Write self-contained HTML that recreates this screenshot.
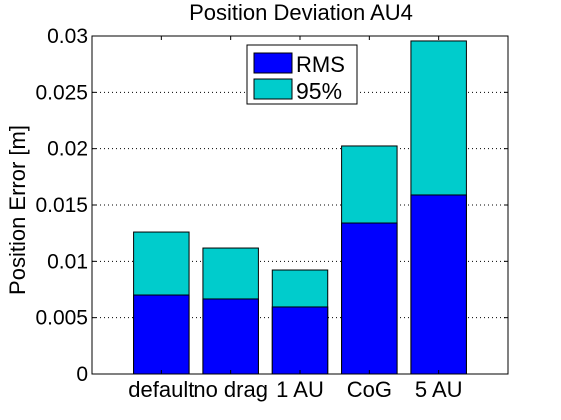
<!DOCTYPE html>
<html><head><meta charset="utf-8"><style>
body{margin:0;background:#fff;}
svg{display:block;font-family:"Liberation Sans",Arial,sans-serif;}
</style></head><body>
<svg id="c" width="561" height="420" viewBox="0 0 561 420"></svg>
<script>
const categories = ["default","no drag","1 AU","CoG","5 AU"];
const rmsValues = [0.00701, 0.00666, 0.00595, 0.0134, 0.01589];
const p95Values = [0.0126, 0.01118, 0.00923, 0.02024, 0.02956];
const yTicks = [0, 0.005, 0.01, 0.015, 0.02, 0.025, 0.03];
const yTickLabels = ["0","0.005","0.01","0.015","0.02","0.025","0.03"];

const L=92,R=508,T=36,B=374;
const NS="http://www.w3.org/2000/svg";
const svg=document.getElementById('c');
function y(v){return B-(v/0.03)*(B-T);}
function x(i){return L+(R-L)*(i+1)/6;}
function el(tag,attrs,text){const e=document.createElementNS(NS,tag);for(const k in attrs)e.setAttribute(k,attrs[k]);if(text!==undefined)e.textContent=text;svg.appendChild(e);return e;}

yTicks.forEach((t,i)=>{
  if(i>0&&i<yTicks.length-1){
    const g=el('line',{x1:L,x2:R,y1:y(t),y2:y(t),stroke:'#000','stroke-width':1,'stroke-dasharray':'1,3'});
    
    
  }
});
const bw=(R-L)/6*0.8;
categories.forEach((c,i)=>{
  const b2=el('rect',{x:x(i)-bw/2,y:y(p95Values[i]),width:bw,height:y(0)-y(p95Values[i]),fill:'#00cccc',stroke:'#000','stroke-width':1});
  
  
  const b1=el('rect',{x:x(i)-bw/2,y:y(rmsValues[i]),width:bw,height:y(0)-y(rmsValues[i]),fill:'#0000ff',stroke:'#000','stroke-width':1});
  
  
  const tl=el('text',{x:x(i),y:B+23,'text-anchor':'middle','font-size':22},c);
  
  
  el('line',{x1:x(i),x2:x(i),y1:B,y2:B-4,stroke:'#000'});
  el('line',{x1:x(i),x2:x(i),y1:T,y2:T+4,stroke:'#000'});
});
yTicks.forEach((t,i)=>{
  el('line',{x1:L,x2:L+4,y1:y(t),y2:y(t),stroke:'#000'});
  el('line',{x1:R,x2:R-4,y1:y(t),y2:y(t),stroke:'#000'});
  const tl=el('text',{x:L-4,y:y(t)+7,'text-anchor':'end','font-size':21},yTickLabels[i]);
  
  
});
const ax=el('rect',{x:L,y:T,width:R-L,height:B-T,fill:'none',stroke:'#000','stroke-width':1});


</script>
<svg style="position:absolute;left:0;top:0" width="561" height="420">
<text x="301" y="20" text-anchor="middle" font-size="22" font-family="Liberation Sans, sans-serif">Position Deviation AU4</text>
<text transform="translate(25,210) rotate(-90)" text-anchor="middle" font-size="22" font-family="Liberation Sans, sans-serif">Position Error [m]</text>
<g>
<rect x="247" y="45" width="110" height="59" fill="#fff" stroke="#000"/>
<rect x="254" y="53" width="38" height="20" fill="#0000ff" stroke="#000"/>
<text x="296" y="72" font-size="22" font-family="Liberation Sans, sans-serif">RMS</text>
<rect x="254" y="79" width="38" height="20" fill="#00cccc" stroke="#000"/>
<text x="296" y="99" font-size="23" font-family="Liberation Sans, sans-serif">95%</text>
</g>
</svg>
</body></html>
